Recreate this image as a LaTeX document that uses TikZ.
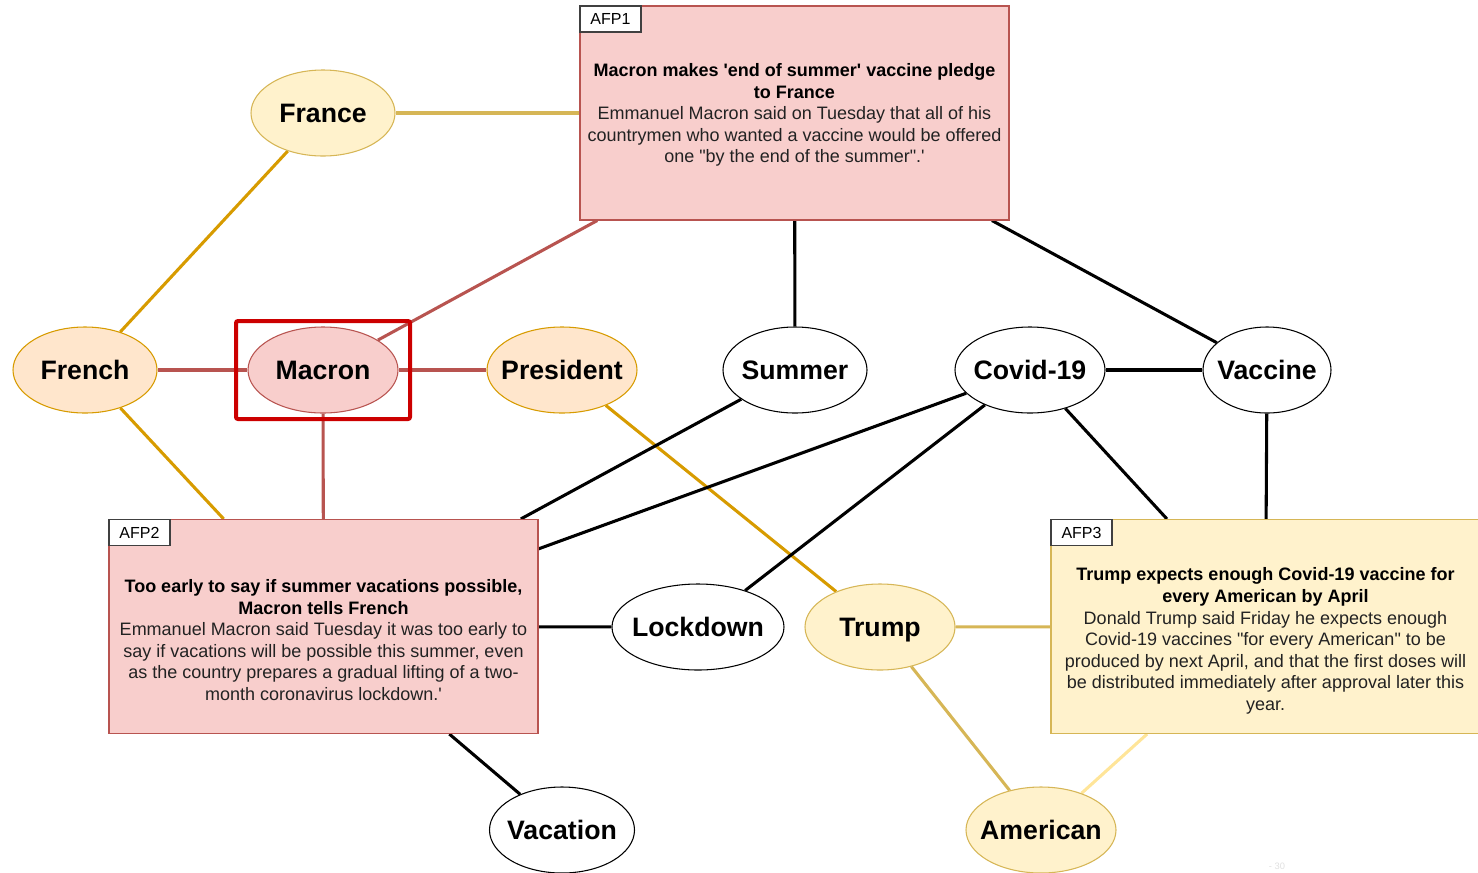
\documentclass[tikz,border=0pt]{standalone}
\usepackage{fontspec}
\setmainfont{Liberation Sans}
\usetikzlibrary{shapes.geometric,backgrounds}

\definecolor{redfill}{HTML}{F8CECC}
\definecolor{redline}{HTML}{B85450}
\definecolor{yelfill}{HTML}{FFF2CC}
\definecolor{yelline}{HTML}{D6B656}
\definecolor{orgfill}{HTML}{FFE6CC}
\definecolor{orgline}{HTML}{D79B00}
\definecolor{paleyel}{HTML}{FFE599}
\definecolor{hilite}{HTML}{CC0000}
\definecolor{bodytext}{HTML}{222222}

\newcommand{\sq}{\textquotesingle}
\newcommand{\dq}{\textquotedbl}

\tikzset{
  ent/.style 2 args={ellipse, draw, line width=0.8pt, inner sep=0pt,
    minimum width=#1, minimum height=#2},
  word/.style={font=\fontsize{20}{24}\selectfont\bfseries, text=black,
    text height=14.4pt, text depth=0pt, inner sep=0pt},
  whiteent/.style={fill=white, draw=black},
  redent/.style={fill=redfill, draw=redline},
  yelent/.style={fill=yelfill, draw=yelline},
  orgent/.style={fill=orgfill, draw=orgline},
  article/.style={rectangle, draw, line width=0.8pt, inner sep=0pt,
    minimum width=321.75pt, minimum height=160.5pt},
  tag/.style={rectangle, draw=black!75, fill=white, line width=0.8pt, inner sep=0pt,
    minimum width=45.75pt, minimum height=19.5pt, anchor=north west,
    text height=8.6pt, text depth=0pt,
    font=\fontsize{12}{14}\selectfont},
  story/.style={align=center, text=bodytext, inner sep=0pt,
    font=\fontsize{13.5}{16.2}\selectfont},
  link/.style={line width=2.3pt},
}

\begin{document}
\begin{tikzpicture}[x=0.75pt, y=-0.75pt]
\useasboundingbox (0,0) rectangle (1478,872);

% article boxes
\node[article, fill=redfill, draw=redline] (afp1) at (794.5,113) {};
\node[article, fill=redfill, draw=redline] (afp2) at (323.5,626.5) {};
\node[article, fill=yelfill, draw=yelline] (afp3) at (1265.5,626.5) {};

\node[tag] (tag1) at (afp1.north west) {AFP1};
\node[tag] (tag2) at (afp2.north west) {AFP2};
\node[tag] (tag3) at (afp3.north west) {AFP3};

\node[story] (txt1) at (794.5,115) {\textbf{\color{black}Macron makes \sq end of summer\sq\ vaccine pledge}\\
  \textbf{\color{black}to France}\\
  Emmanuel Macron said on Tuesday that all of his\\
  countrymen who wanted a vaccine would be offered\\
  one \dq by the end of the summer\dq.\sq};
\node[story] (txt2) at (323.5,640) {\textbf{\color{black}Too early to say if summer vacations possible,}\\
  \textbf{\color{black}Macron tells French}\\
  Emmanuel Macron said Tuesday it was too early to\\
  say if vacations will be possible this summer, even\\
  as the country prepares a gradual lifting of a two-\\
  month coronavirus lockdown.\sq};
\node[story] (txt3) at (1265.5,641) {\textbf{\color{black}Trump expects enough Covid-19 vaccine for}\\
  \textbf{\color{black}every American by April}\\
  Donald Trump said Friday he expects enough\\
  Covid-19 vaccines \dq for every American\dq\ to be\\
  produced by next April, and that the first doses will\\
  be distributed immediately after approval later this\\
  year.};

% entity ellipses
\node[ent={108pt}{64.5pt}, yelent, label={[word]center:France}] (france) at (323,113) {};
\node[ent={108pt}{64.5pt}, orgent, label={[word]center:French}] (french) at (85,370) {};
\node[ent={112.5pt}{64.5pt}, redent, label={[word]center:Macron}] (macron) at (323,370) {};
\node[ent={112.5pt}{64.5pt}, orgent, label={[word]center:President}] (president) at (562,370) {};
\node[ent={108pt}{64.5pt}, whiteent, label={[word]center:Summer}] (summer) at (795,370) {};
\node[ent={112.5pt}{64.5pt}, whiteent, label={[word]center:Covid-19}] (covid) at (1030,370) {};
\node[ent={96pt}{64.5pt}, whiteent, label={[word]center:Vaccine}] (vaccine) at (1267,370) {};
\node[ent={129pt}{64.5pt}, whiteent, label={[word]center:Lockdown}] (lockdown) at (698,627) {};
\node[ent={112.5pt}{64.5pt}, yelent, label={[word]center:Trump}] (trump) at (880,627) {};
\node[ent={108.75pt}{64.5pt}, whiteent, label={[word]center:Vacation}] (vacation) at (562,830) {};
\node[ent={112.5pt}{64.5pt}, yelent, label={[word]center:American}] (american) at (1041,830) {};

% connectors, kept behind the shapes
\begin{scope}[on background layer]
  \draw[link, yelline] (france) -- (afp1);
  \draw[link, orgline] (france) -- (french);
  \draw[link, redline] (french) -- (macron);
  \draw[link, orgline] (french) -- (afp2);
  \draw[link, redline] (macron) -- (afp1);
  \draw[link, redline] (macron) -- (president);
  \draw[link, redline] (macron) -- (afp2);
  \draw[link, orgline] (president) -- (trump);
  \draw[link, black] (summer) -- (afp1);
  \draw[link, black] (summer) -- (afp2);
  \draw[link, black] (covid) -- (afp2);
  \draw[link, black] (covid) -- (lockdown);
  \draw[link, black] (covid) -- (vaccine);
  \draw[link, black] (covid) -- (afp3);
  \draw[link, black] (afp1) -- (vaccine);
  \draw[link, black] (vaccine) -- (afp3);
  \draw[link, black] (afp2) -- (lockdown);
  \draw[link, yelline] (trump) -- (afp3);
  \draw[link, yelline] (trump) -- (american);
  \draw[link, paleyel] (afp3) -- (american);
  \draw[link, black] (afp2) -- (vacation);
\end{scope}

% highlight frame round the central entity
\draw[hilite, line width=3pt, rounded corners=1.5pt] (236,321) rectangle (410,419);

% page number
\node[text=black!12, font=\fontsize{7}{8}\selectfont] (pagenum) at (1277,866) {- 30};
\end{tikzpicture}
\end{document}
